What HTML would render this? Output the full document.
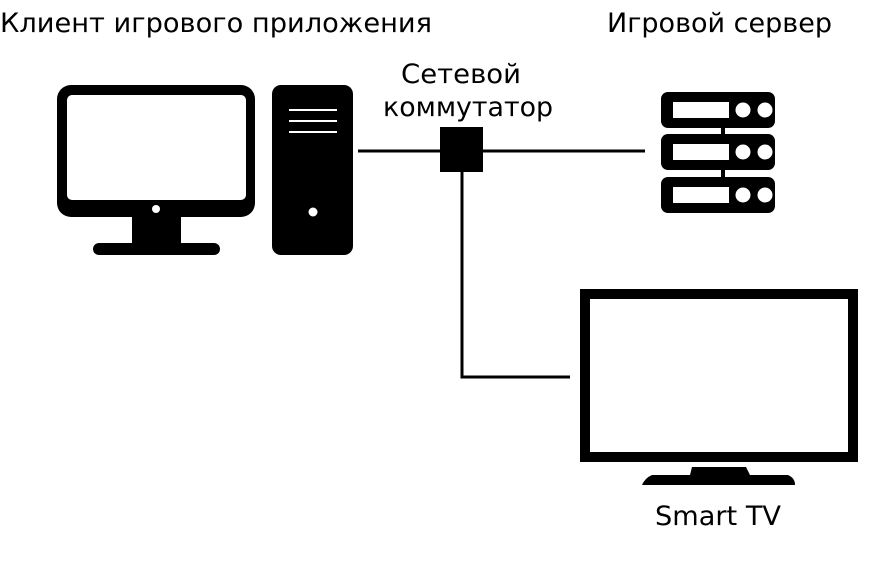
<!DOCTYPE html>
<html><head><meta charset="utf-8"><style>html,body{margin:0;padding:0;background:#fff}svg{display:block}
text{font-family:"DejaVu Sans","Liberation Sans",sans-serif;font-size:27px;fill:#000}</style></head>
<body>
<svg width="887" height="563" viewBox="0 0 887 563" xmlns="http://www.w3.org/2000/svg" fill="#000">
<text x="0" y="32" textLength="432" lengthAdjust="spacingAndGlyphs">Клиент игрового приложения</text>
<text x="607" y="32" textLength="225" lengthAdjust="spacingAndGlyphs">Игровой сервер</text>
<text x="401" y="83" textLength="120" lengthAdjust="spacingAndGlyphs">Сетевой</text>
<text x="383" y="116" textLength="170" lengthAdjust="spacingAndGlyphs">коммутатор</text>
<text x="655" y="525" textLength="126" lengthAdjust="spacingAndGlyphs">Smart TV</text>
<!-- lines -->
<line x1="358" y1="151" x2="645" y2="151" stroke="#000" stroke-width="3"/>
<polyline points="462,170 462,377 570,377" fill="none" stroke="#000" stroke-width="3"/>
<rect x="440" y="127" width="43" height="45"/>
<!-- monitor -->
<rect x="57" y="85" width="198" height="132" rx="14"/>
<rect x="67" y="95" width="179" height="105" rx="5" fill="#fff"/>
<circle cx="156" cy="209" r="4" fill="#fff"/>
<rect x="132" y="215" width="49" height="30"/>
<rect x="93" y="243" width="127" height="12" rx="6"/>
<!-- tower -->
<rect x="272" y="85" width="81" height="170" rx="9"/>
<rect x="289" y="109" width="48" height="2" fill="#fff"/>
<rect x="289" y="120" width="48" height="2" fill="#fff"/>
<rect x="289" y="131" width="48" height="2" fill="#fff"/>
<circle cx="313" cy="212" r="4.5" fill="#fff"/>
<!-- server -->
<rect x="721" y="120" width="4" height="65"/>
<rect x="661" y="92" width="114" height="36" rx="7"/>
<rect x="661" y="134" width="114" height="36" rx="7"/>
<rect x="661" y="177" width="114" height="36" rx="7"/>
<g fill="#fff">
<rect x="673" y="102" width="56" height="16"/><circle cx="743" cy="110" r="7.5"/><circle cx="765" cy="110" r="7.5"/>
<rect x="673" y="144" width="56" height="16"/><circle cx="743" cy="152" r="7.5"/><circle cx="765" cy="152" r="7.5"/>
<rect x="673" y="187" width="56" height="16"/><circle cx="743" cy="195" r="7.5"/><circle cx="765" cy="195" r="7.5"/>
</g>
<!-- TV -->
<rect x="580" y="289" width="278" height="173"/>
<rect x="590" y="299" width="258" height="153" fill="#fff"/>
<path d="M692,467 L746,467 L750,475 L690,475 Z"/>
<path d="M652,475 L788,475 Q795,478 795,485 L642,485 Q645,478 652,475 Z"/>
</svg>
</body></html>
